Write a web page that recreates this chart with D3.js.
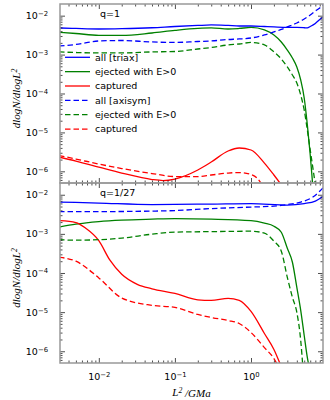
<!DOCTYPE html>
<html>
<head>
<meta charset="utf-8" />
<style>
  body { margin: 0; background: #fff; }
  svg { display: block; }
  text { font-family: 'DejaVu Sans', sans-serif; font-size: 9.5px; fill: #000; }
  .curve { fill: none; stroke-width: 1.3; }
  .frame { fill: none; stroke: #999; stroke-width: 1.5; }
  .math { font-family: 'Liberation Serif', serif; font-style: italic; font-size: 11px; }
</style>
</head>
<body>
<svg id="container" width="330" height="400"></svg>
<script src="https://cdn.jsdelivr.net/npm/d3@7/dist/d3.min.js"></script>
<script>
// [L^2, dlogN/dlogL^2]
// q = 1
var q1AllTriax = [[0.003,4.83e-3],[0.005,4.69e-3],[0.01,4.55e-3],[0.02,4.63e-3],[0.05,4.89e-3],[0.1,5.27e-3],[0.2,5.60e-3],[0.3,5.77e-3],[0.5,5.60e-3],[0.7,5.43e-3],[1,5.43e-3],[1.5,5.27e-3],[2,5.13e-3],[3,4.98e-3],[4,4.98e-3],[5,4.89e-3],[5.5,4.83e-3],[6,5.27e-3],[7,6.3e-3],[8,7.98e-3],[9,9.5e-3]];
var q1EjectTriax = [[0.003,3.74e-3],[0.005,3.48e-3],[0.01,3.13e-3],[0.02,3.10e-3],[0.05,3.59e-3],[0.1,4.17e-3],[0.2,4.69e-3],[0.3,4.83e-3],[0.5,4.55e-3],[0.7,4.69e-3],[1,4.98e-3],[1.5,4.29e-3],[2,3.19e-3],[2.5,2.11e-3],[3,1.31e-3],[3.5,8.18e-4],[4,4.80e-4],[4.5,2.22e-4],[5,7.66e-5],[5.5,1.55e-5],[6,2.62e-6],[6.5,4e-7]];
var q1CaptTriax = [[0.003,2.33e-6],[0.005,1.84e-6],[0.01,1.29e-6],[0.02,9.04e-7],[0.05,6.15e-7],[0.07,5.80e-7],[0.1,6.34e-7],[0.2,1.08e-6],[0.3,1.73e-6],[0.5,3.33e-6],[0.7,3.97e-6],[1,3.53e-6],[1.5,1.63e-6],[2,8.04e-7],[2.5,4.5e-7]];
var q1AllAxi = [[0.003,1.66e-3],[0.005,1.82e-3],[0.01,2.24e-3],[0.02,2.30e-3],[0.05,2.11e-3],[0.1,2.05e-3],[0.2,2.17e-3],[0.3,2.24e-3],[0.5,2.44e-3],[0.7,2.52e-3],[1,2.67e-3],[1.5,3.19e-3],[2,3.81e-3],[2.5,4.42e-3],[3,5.13e-3],[4,6.49e-3],[5,8.22e-3],[6,1.04e-2],[7,1.32e-2],[8,1.58e-2],[9,1.95e-2]];
var q1EjectAxi = [[0.003,1.17e-3],[0.005,1.13e-3],[0.01,1.10e-3],[0.02,1.10e-3],[0.05,1.17e-3],[0.1,1.20e-3],[0.2,1.39e-3],[0.3,1.52e-3],[0.5,1.77e-3],[0.7,1.87e-3],[1,2.05e-3],[1.5,1.77e-3],[2,1.17e-3],[2.5,7.71e-4],[3,4.80e-4],[3.5,2.99e-4],[4,1.86e-4],[4.5,9.15e-5],[5,3.77e-5],[5.5,1.15e-5],[6,3.53e-6],[6.5,1.22e-6],[7,4.5e-7]];
var q1CaptAxi = [[0.003,2.55e-6],[0.005,2.07e-6],[0.01,1.54e-6],[0.02,1.18e-6],[0.05,8.77e-7],[0.1,7.34e-7],[0.2,7.34e-7],[0.3,8.04e-7],[0.5,9.04e-7],[0.7,9.31e-7],[1,8.28e-7],[1.2,6.73e-7],[1.4,4.5e-7]];

// q = 1/27
var q27AllTriax = [[0.003,6.50e-3],[0.01,6.12e-3],[0.05,5.61e-3],[0.3,5.78e-3],[1,5.94e-3],[3,5.45e-3],[5,5.94e-3],[7,6.89e-3],[9,9.2e-3]];
var q27EjectTriax = [[0.003,1.49e-3],[0.005,1.77e-3],[0.01,2.06e-3],[0.02,2.25e-3],[0.05,2.38e-3],[0.1,2.45e-3],[0.3,2.38e-3],[1,2.18e-3],[1.5,1.88e-3],[2,1.57e-3],[2.5,1.10e-3],[3,4.29e-4],[3.5,1.88e-4],[4,4.30e-5],[4.5,1.11e-5],[5,2.53e-6],[5.5,6.90e-7],[6,3e-7]];
var q27CaptTriax = [[0.003,2.18e-3],[0.005,1.94e-3],[0.0067,1.40e-3],[0.01,6.7e-4],[0.014,2.12e-4],[0.02,9.27e-5],[0.032,5.13e-5],[0.05,3.94e-5],[0.1,3.01e-5],[0.2,2.06e-5],[0.3,2.00e-5],[0.5,2.24e-5],[0.7,2.00e-5],[1,1.04e-5],[1.5,2.84e-6],[2,1.11e-6],[2.5,4e-7]];
var q27AllAxi = [[0.003,3.71e-3],[0.01,3.71e-3],[0.05,3.82e-3],[0.1,3.94e-3],[0.3,4.43e-3],[1,4.84e-3],[2,5.13e-3],[3,5.61e-3],[4.5,6.50e-3],[6.5,8.73e-3],[9,1.55e-2]];
var q27EjectAxi = [[0.003,7.10e-4],[0.005,6.89e-4],[0.01,7.10e-4],[0.02,7.76e-4],[0.05,9.82e-4],[0.1,1.11e-3],[0.3,1.14e-3],[1,1.17e-3],[1.5,1.04e-3],[2,6.50e-4],[2.5,3.60e-4],[3,7.76e-5],[3.5,2.38e-5],[4,9.82e-6],[4.5,1.88e-6],[4.8,4e-7]];
var q27CaptAxi = [[0.003,2.53e-4],[0.005,2.00e-4],[0.01,7.5e-5],[0.02,2.3e-5],[0.05,1.49e-5],[0.1,1.32e-5],[0.2,8.73e-6],[0.3,7.31e-6],[0.5,6.12e-6],[0.7,5.13e-6],[1,3.01e-6],[1.5,1.24e-6],[2,6.50e-7],[2.3,4e-7]];

var panelTitles = ['q=1', 'q=1/27'];
var legendLabels = ['all [triax]', 'ejected with E>0', 'captured', 'all [axisym]', 'ejected with E>0', 'captured'];
var xTickValues = [0.01, 0.1, 1];
var xTickExps = ['\u22122', '\u22121', '0'];
var yTickValues = [1e-6, 1e-5, 1e-4, 1e-3, 1e-2];
var yTickExps = ['\u22126', '\u22125', '\u22124', '\u22123', '\u22122'];

var colors = ['#0000ff', '#008000', '#ff0000'];
var panels = [
  {title: panelTitles[0], top: 4, bottom: 183,
   series: [q1AllTriax, q1EjectTriax, q1CaptTriax, q1AllAxi, q1EjectAxi, q1CaptAxi]},
  {title: panelTitles[1], top: 183, bottom: 363,
   series: [q27AllTriax, q27EjectTriax, q27CaptTriax, q27AllAxi, q27EjectAxi, q27CaptAxi]}
];

var left = 60, right = 323;
var svg = d3.select('#container');
var x = d3.scaleLog().domain([0.00309, 8.83]).range([left, right]);

function minorTicks(lo, hi) {
  var out = [];
  for (var e = -8; e <= 1; e++) {
    for (var k = 2; k <= 9; k++) {
      var v = k * Math.pow(10, e);
      if (v > lo && v < hi) out.push(v);
    }
  }
  return out;
}
var xMinor = minorTicks(0.00309, 8.83);

function styleAxis(g) {
  g.select('.domain').remove();
  g.attr('font-family', 'DejaVu Sans').attr('font-size', 9.5).attr('color', '#222');
  g.selectAll('line').attr('stroke-width', 0.8);
}

function addExps(g, vals, exps) {
  g.selectAll('.tick text').each(function (d) {
    var i = vals.indexOf(d);
    d3.select(this).text('10')
      .append('tspan').attr('dy', '-0.45em').attr('font-size', '0.72em').text(exps[i]);
  });
}

panels.forEach(function (p, pi) {
  var y = d3.scaleLog().domain([5.01e-7, 1.995e-2]).range([p.bottom, p.top]);
  var yMinor = minorTicks(5.01e-7, 1.995e-2);
  var g = svg.append('g');

  g.append('clipPath').attr('id', 'clip' + pi)
    .append('rect').attr('x', left).attr('y', p.top)
    .attr('width', right - left).attr('height', p.bottom - p.top);

  var line = d3.line()
    .x(function (d) { return x(d[0]); })
    .y(function (d) { return y(d[1]); })
    .curve(d3.curveMonotoneX);

  g.append('g').attr('clip-path', 'url(#clip' + pi + ')')
    .selectAll('path').data(p.series).enter().append('path')
    .attr('class', 'curve')
    .attr('stroke', function (d, i) { return colors[i % 3]; })
    .attr('stroke-dasharray', function (d, i) { return i >= 3 ? '5.5,3' : null; })
    .attr('d', line);

  // ticks on all four sides, pointing in
  [[d3.axisBottom, p.bottom], [d3.axisTop, p.top]].forEach(function (a) {
    g.append('g').attr('transform', 'translate(0,' + a[1] + ')')
      .call(a[0](x).tickValues(xMinor).tickSize(-2.5).tickSizeOuter(0).tickFormat(''))
      .call(styleAxis);
    var maj = g.append('g').attr('transform', 'translate(0,' + a[1] + ')')
      .call(a[0](x).tickValues(xTickValues).tickSize(-5).tickSizeOuter(0).tickPadding(10)
        .tickFormat(a[0] === d3.axisBottom && pi === 1 ? function () { return '10'; } : ''))
      .call(styleAxis);
    if (a[0] === d3.axisBottom && pi === 1) addExps(maj, xTickValues, xTickExps);
  });
  [[d3.axisLeft, left], [d3.axisRight, right]].forEach(function (a) {
    g.append('g').attr('transform', 'translate(' + a[1] + ',0)')
      .call(a[0](y).tickValues(yMinor).tickSize(-2.5).tickSizeOuter(0).tickFormat(''))
      .call(styleAxis);
    var maj = g.append('g').attr('transform', 'translate(' + a[1] + ',0)')
      .call(a[0](y).tickValues(yTickValues).tickSize(-5).tickSizeOuter(0).tickPadding(12)
        .tickFormat(a[0] === d3.axisLeft ? function () { return '10'; } : ''))
      .call(styleAxis);
    if (a[0] === d3.axisLeft) addExps(maj, yTickValues, yTickExps);
  });

  g.append('rect').attr('class', 'frame')
    .attr('x', left).attr('y', p.top)
    .attr('width', right - left).attr('height', p.bottom - p.top);

  g.append('text').attr('x', 100).attr('y', p.top + 13).text(p.title);

  var yl = g.append('text').attr('class', 'math')
    .attr('text-anchor', 'middle')
    .attr('transform', 'translate(20,' + ((p.top + p.bottom) / 2 + 5) + ') rotate(-90)')
    .text('dlogN/dlogL');
  yl.append('tspan').attr('dy', '-0.4em').attr('font-size', '0.7em').text('2');

  if (pi === 0) {
    var lg = g.append('g').selectAll('g').data(legendLabels).enter().append('g')
      .attr('transform', function (d, i) { return 'translate(65,' + (57.3 + i * 14.35) + ')'; });
    lg.append('line').attr('x1', 0).attr('x2', 25)
      .attr('stroke', function (d, i) { return colors[i % 3]; })
      .attr('stroke-width', 1.3)
      .attr('stroke-dasharray', function (d, i) { return i >= 3 ? '5.5,3' : null; });
    lg.append('text').attr('x', 30).attr('dy', '0.35em').text(function (d) { return d; });
  }
});

var xl = svg.append('text').attr('class', 'math')
  .attr('text-anchor', 'middle')
  .attr('x', (left + right) / 2).attr('y', 396)
  .text('L');
xl.append('tspan').attr('dy', '-0.4em').attr('font-size', '0.7em').text('2');
xl.append('tspan').attr('dy', '0.4em').text(' /GMa');
</script>
</body>
</html>
